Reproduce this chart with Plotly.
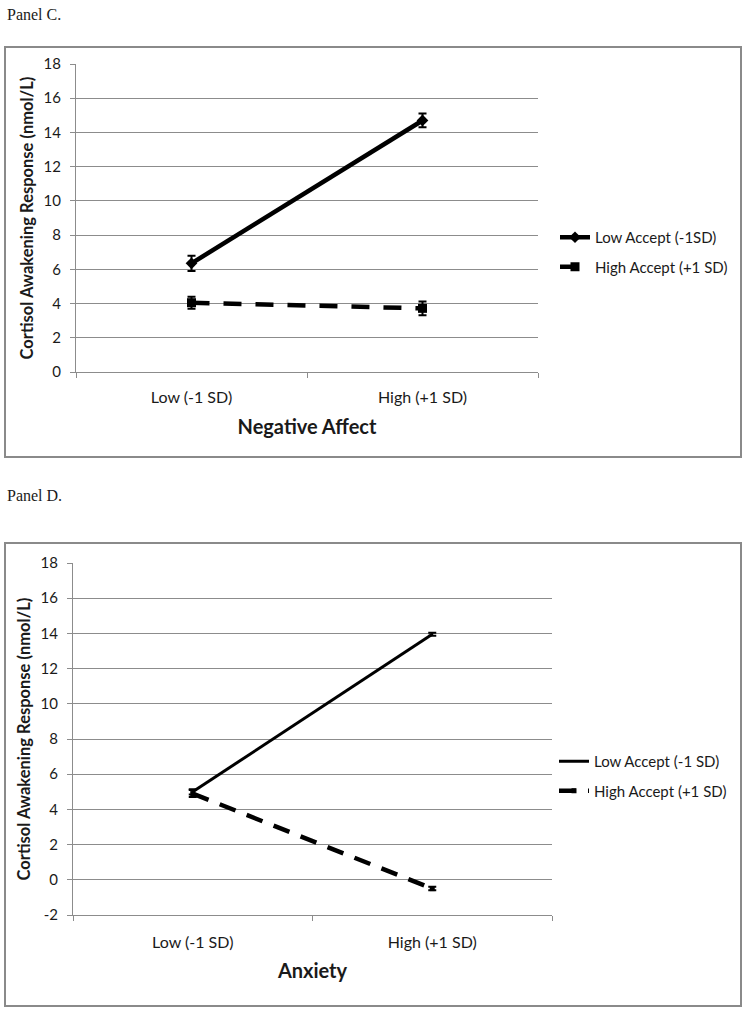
import plotly.graph_objects as go

W, H = 750, 1016

categories = ["Low (-1 SD)", "High (+1 SD)"]

c_low_accept = [6.35, 14.7]
c_low_accept_err = [0.45, 0.4]
c_high_accept = [4.05, 3.72]
c_high_accept_err = [0.35, 0.4]

d_low_accept = [5.0, 13.95]
d_low_accept_err = [0.15, 0.08]
d_high_accept = [4.9, -0.5]
d_high_accept_err = [0.2, 0.1]

y_ticks_c = [0, 2, 4, 6, 8, 10, 12, 14, 16, 18]
y_ticks_d = [-2, 0, 2, 4, 6, 8, 10, 12, 14, 16, 18]

FONT = "Lato"
GRID = "#8c8c8c"
TXT = "#1a1a1a"


def px(x):
    return x / W


def py(y):
    return 1 - y / H


fig = go.Figure()

# Panel C
fig.add_trace(go.Scatter(
    x=categories, y=c_low_accept, name="Low Accept (-1SD)",
    mode="lines+markers", xaxis="x", yaxis="y",
    line=dict(color="black", width=4.5),
    marker=dict(symbol="diamond", size=9, color="black"),
    error_y=dict(type="data", array=c_low_accept_err, color="black", thickness=2, width=4),
    legend="legend", legendgroup="c1"))
fig.add_trace(go.Scatter(
    x=categories, y=c_high_accept, name="High Accept (+1 SD)",
    mode="lines+markers", xaxis="x", yaxis="y",
    line=dict(color="black", width=4.5, dash="18px,14px"),
    marker=dict(symbol="square", size=9, color="black"),
    error_y=dict(type="data", array=c_high_accept_err, color="black", thickness=2, width=4),
    legend="legend", legendgroup="c2"))

# Panel D
fig.add_trace(go.Scatter(
    x=categories, y=d_low_accept, name="Low Accept (-1 SD)",
    mode="lines", xaxis="x2", yaxis="y2",
    line=dict(color="black", width=3),
    error_y=dict(type="data", array=d_low_accept_err, color="black", thickness=2, width=4),
    legend="legend2", legendgroup="d1"))
fig.add_trace(go.Scatter(
    x=categories, y=d_high_accept, name="High Accept (+1 SD)",
    mode="lines+markers", xaxis="x2", yaxis="y2",
    line=dict(color="black", width=4.5, dash="17px,12px"),
    marker=dict(symbol="square", size=5, color="black"),
    error_y=dict(type="data", array=d_high_accept_err, color="black", thickness=2, width=4),
    legend="legend2", legendgroup="d2"))

xcommon = dict(
    type="category", range=[-0.5, 1.5], tickson="boundaries",
    ticks="outside", ticklen=5, tickcolor=GRID, showline=True, linecolor=GRID,
    linewidth=1, showgrid=False, tickfont=dict(family=FONT, size=16, color=TXT),
    automargin=False, fixedrange=True,
)
ycommon = dict(
    ticks="outside", ticklen=5, tickcolor=GRID, showline=True, linecolor=GRID,
    linewidth=1, showgrid=True, gridcolor=GRID, gridwidth=1, zeroline=False,
    tickfont=dict(family=FONT, size=15, color=TXT), automargin=False, ticklabelstandoff=6,
    fixedrange=True,
)
ytitle = "Cortisol Awakening Response (nmol/L)"

fig.update_layout(
    width=W, height=H,
    margin=dict(l=0, r=0, t=0, b=0),
    paper_bgcolor="white", plot_bgcolor="white",
    showlegend=True,
    xaxis=dict(domain=[px(76), px(538)], anchor="y", ticklabelstandoff=11,
               title=dict(text="<b>Negative Affect</b>", font=dict(family=FONT, size=20, color=TXT), standoff=14),
               **xcommon),
    yaxis=dict(domain=[py(372), py(64)], anchor="x", range=[0, 18], tickvals=y_ticks_c,
               ticktext=[str(v) for v in y_ticks_c],
               title=dict(text="<b>" + ytitle + "</b>", font=dict(family=FONT, size=16.5, color=TXT), standoff=5),
               **ycommon),
    xaxis2=dict(domain=[px(73), px(552)], anchor="y2", ticklabelstandoff=13,
                title=dict(text="<b>Anxiety</b>", font=dict(family=FONT, size=20, color=TXT), standoff=13),
                **xcommon),
    yaxis2=dict(domain=[py(915), py(563)], anchor="x2", range=[-2, 18], tickvals=y_ticks_d,
                ticktext=[str(v) for v in y_ticks_d],
                title=dict(text="<b>" + ytitle + "</b>", font=dict(family=FONT, size=16.5, color=TXT), standoff=5),
                **ycommon),
    legend=dict(x=px(555), y=py(252), xanchor="left", yanchor="middle",
                font=dict(family=FONT, size=15, color=TXT), tracegroupgap=7,
                bgcolor="rgba(0,0,0,0)", itemwidth=30),
    legend2=dict(x=px(554), y=py(776), xanchor="left", yanchor="middle",
                 font=dict(family=FONT, size=15, color=TXT), tracegroupgap=7,
                 bgcolor="rgba(0,0,0,0)", itemwidth=30),
    shapes=[
        dict(type="rect", xref="paper", yref="paper", x0=px(5), x1=px(741), y0=py(457), y1=py(47),
             line=dict(color="#8a8a8a", width=2)),
        dict(type="rect", xref="paper", yref="paper", x0=px(5), x1=px(741), y0=py(1006), y1=py(543),
             line=dict(color="#8a8a8a", width=2)),
    ],
    annotations=[
        dict(text="Panel C.", xref="paper", yref="paper", x=px(5), y=py(15), xanchor="left", yanchor="middle",
             showarrow=False, font=dict(family="Liberation Serif", size=16, color=TXT)),
        dict(text="Panel D.", xref="paper", yref="paper", x=px(5), y=py(495), xanchor="left", yanchor="middle",
             showarrow=False, font=dict(family="Liberation Serif", size=16, color=TXT)),
    ],
)

fig.write_html("out.html", config={"displayModeBar": False},
               post_script="document.body.style.margin='0px';")
